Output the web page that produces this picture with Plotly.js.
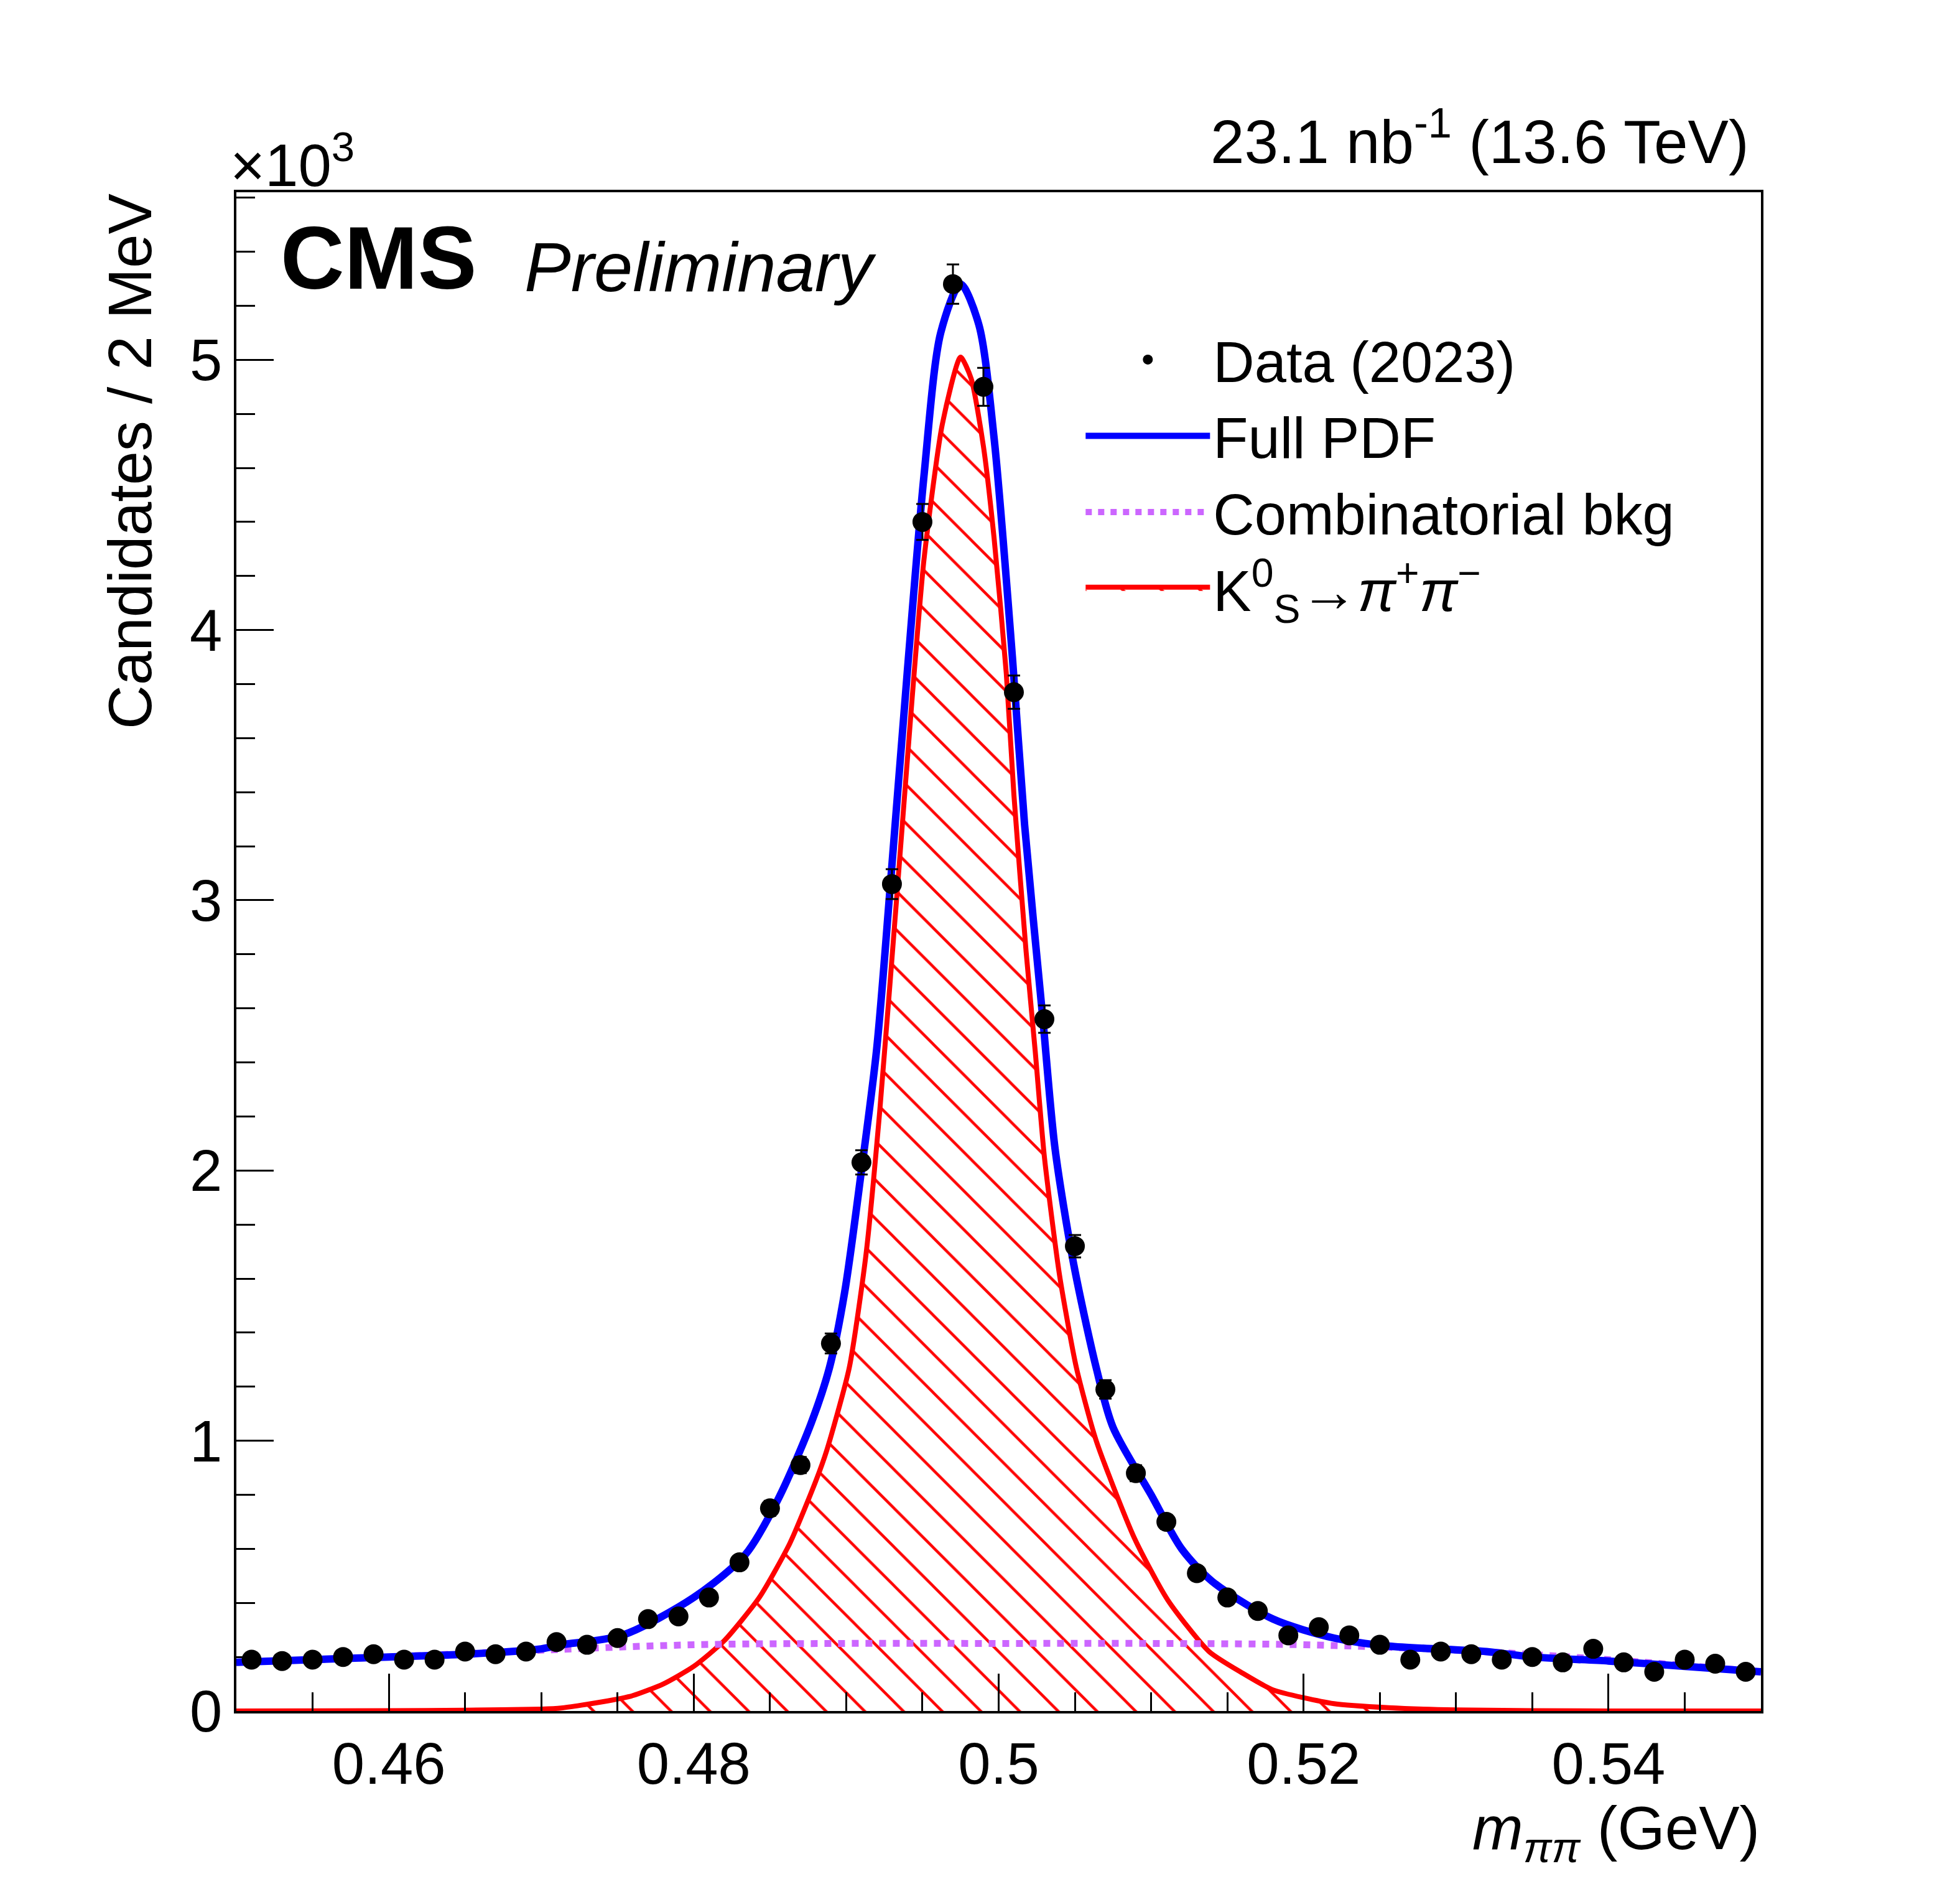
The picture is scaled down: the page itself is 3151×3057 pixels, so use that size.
<!DOCTYPE html>
<html>
<head>
<meta charset="utf-8">
<script src="https://cdn.plot.ly/plotly-3.0.1.min.js"></script>
<style>body{margin:0;background:#fff}#plot{width:3151px;height:3057px}</style>
</head>
<body>
<div id="plot"></div>
<script>
// data points, candidates per 2 MeV in units of 10^3
var dataX = [0.451,0.453,0.455,0.457,0.459,0.461,0.463,0.465,0.467,0.469,
             0.471,0.473,0.475,0.477,0.479,0.481,0.483,0.485,0.487,0.489,
             0.491,0.493,0.495,0.497,0.499,0.501,0.503,0.505,0.507,0.509,
             0.511,0.513,0.515,0.517,0.519,0.521,0.523,0.525,0.527,0.529,
             0.531,0.533,0.535,0.537,0.539,0.541,0.543,0.545,0.547,0.549];
var dataY = [0.19,0.185,0.19,0.20,0.21,0.19,0.19,0.22,0.21,0.22,
             0.255,0.245,0.27,0.34,0.35,0.42,0.55,0.75,0.91,1.36,
             2.03,3.06,4.40,5.28,4.90,3.77,2.56,1.72,1.19,0.88,
             0.70,0.51,0.42,0.37,0.28,0.31,0.28,0.245,0.19,0.22,
             0.21,0.19,0.20,0.18,0.23,0.18,0.145,0.19,0.175,0.145];
var dataErr = dataY.map(function(v){ return Math.sqrt(v*1000)/1000; });

// full PDF
var fullX = [0.45,0.455,0.46,0.465,0.47,0.4713,0.4753,0.48,0.4834,0.4855,0.4876,0.4889,0.4899,0.491,0.492,0.4929,0.494,0.4951,0.4962,0.4975,
             0.4987,0.4997,0.5009,0.5017,0.5029,0.5037,0.5049,0.5064,0.5075,0.51,0.512,0.514,0.518,0.522,0.5256,0.532,0.535,0.54,0.545,0.55];
var fullY = [0.18,0.19,0.20,0.21,0.23,0.245,0.28,0.42,0.58,0.78,1.05,1.27,1.55,2.0,2.45,3.06,3.84,4.57,5.10,5.28,
             5.13,4.71,3.90,3.28,2.56,2.08,1.66,1.27,1.05,0.80,0.60,0.48,0.34,0.27,0.24,0.22,0.20,0.185,0.165,0.145];

// combinatorial background
var bkgX = [0.45,0.46,0.47,0.48,0.49,0.5,0.51,0.52,0.53,0.54,0.55];
var bkgY = [0.18,0.20,0.225,0.245,0.25,0.25,0.25,0.245,0.225,0.19,0.145];

// K0S signal
var sigX = [0.45,0.46,0.465,0.47,0.4713,0.474,0.476,0.478,0.48,0.482,0.4843,0.4863,0.488,0.4887,0.4902,0.4913,0.4922,0.4933,0.4943,0.4951,0.4963,0.4975,
            0.4982,0.499,0.4997,0.5005,0.501,0.5018,0.5024,0.503,0.504,0.5051,0.5064,0.5089,0.5111,0.5138,0.516,0.518,0.522,0.5256,0.53,0.54,0.55];
var sigY = [0,0.001,0.003,0.007,0.011,0.034,0.057,0.10,0.165,0.26,0.42,0.62,0.85,0.96,1.27,1.69,2.22,3.0,3.73,4.26,4.76,5.01,
            4.93,4.68,4.34,3.84,3.39,2.81,2.44,2.05,1.61,1.27,1.00,0.64,0.41,0.22,0.14,0.078,0.027,0.012,0.004,0,0];

var font = 'Liberation Sans, Arial, sans-serif';

var traces = [
  {x: sigX, y: sigY, type: 'scatter', mode: 'lines', name: 'K<sup>0</sup><sub>S</sub>→<i>π</i><sup>+</sup><i>π</i><sup>−</sup>',
   line: {color: '#ff0000', width: 8, shape: 'spline', smoothing: 0.6}, fill: 'tozeroy', fillcolor: 'rgba(0,0,0,0)',
   fillpattern: {shape: '\\', fgcolor: '#ff0000', bgcolor: 'rgba(0,0,0,0)', size: 44, solidity: 0.1},
   legendrank: 4, legendgroup: 's'},
  {x: bkgX, y: bkgY, type: 'scatter', mode: 'lines', name: 'Combinatorial bkg',
   line: {color: '#cc66ff', width: 11, dash: 'dot', shape: 'spline'}, legendrank: 3, legendgroup: 'b'},
  {x: fullX, y: fullY, type: 'scatter', mode: 'lines', name: 'Full PDF',
   line: {color: '#0000ff', width: 12, shape: 'spline', smoothing: 0.8}, legendrank: 2, legendgroup: 'f'},
  {x: dataX, y: dataY, type: 'scatter', mode: 'markers', name: 'Data (2023)',
   marker: {color: '#000', size: 32},
   error_y: {type: 'data', array: dataErr, color: '#000', thickness: 3, width: 10},
   legendrank: 1, legendgroup: 'd'}
];

var layout = {
  width: 3151, height: 3057,
  paper_bgcolor: '#fff', plot_bgcolor: '#fff',
  margin: {l: 380, r: 320, t: 309, b: 307},
  font: {family: font, size: 92, color: '#000'},
  showlegend: true,
  legend: {x: 0.555, y: 0.917, xanchor: 'left', yanchor: 'top', bgcolor: 'rgba(0,0,0,0)',
           font: {size: 92}, itemwidth: 200, traceorder: 'normal', tracegroupgap: 52},
  xaxis: {range: [0.45, 0.55], tickvals: [0.46, 0.48, 0.5, 0.52, 0.54], ticktext: ['0.46','0.48','0.5','0.52','0.54'],
          ticks: 'inside', ticklen: 60, tickwidth: 3, tickcolor: '#000', mirror: true,
          showline: true, linecolor: '#000', linewidth: 4, showgrid: false, zeroline: false,
          tickfont: {size: 94}, ticklabelstandoff: 0,
          minor: {dtick: 0.005, tick0: 0.45, ticks: 'inside', ticklen: 30, tickwidth: 3, tickcolor: '#000'}},
  yaxis: {range: [0, 5.62], tickvals: [0,1,2,3,4,5], ticks: 'inside', ticklen: 60, tickwidth: 3, tickcolor: '#000',
          mirror: true, showline: true, linecolor: '#000', linewidth: 4, showgrid: false, zeroline: false,
          tickfont: {size: 94},
          minor: {dtick: 0.2, tick0: 0, ticks: 'inside', ticklen: 30, tickwidth: 3, tickcolor: '#000'}},
  annotations: [
    {xref: 'paper', yref: 'paper', x: 0.993, y: 1.01, xanchor: 'right', yanchor: 'bottom', showarrow: false,
     text: '23.1 nb<sup>-1</sup> (13.6 TeV)', font: {size: 98}},
    {xref: 'paper', yref: 'paper', x: -0.005, y: 0.995, xanchor: 'left', yanchor: 'bottom', showarrow: false,
     text: '×10<sup>3</sup>', font: {size: 96}},
    {xref: 'paper', yref: 'paper', x: 0.028, y: 0.99, xanchor: 'left', yanchor: 'top', showarrow: false,
     text: '<b>CMS</b>', font: {size: 142}},
    {xref: 'paper', yref: 'paper', x: 0.188, y: 0.977, xanchor: 'left', yanchor: 'top', showarrow: false,
     text: '<i>Preliminary</i>', font: {size: 112}},
    {xref: 'paper', yref: 'paper', x: -0.07, y: 1.0, xanchor: 'center', yanchor: 'top', showarrow: false,
     textangle: -90, text: 'Candidates / 2 MeV', font: {size: 98}},
    {xref: 'paper', yref: 'paper', x: 1, y: -0.08, xanchor: 'right', yanchor: 'middle', showarrow: false,
     text: '<i>m</i><sub><i>ππ</i></sub> (GeV)', font: {size: 98}}
  ]
};

Plotly.newPlot('plot', traces, layout, {staticPlot: true});
</script>
</body>
</html>
